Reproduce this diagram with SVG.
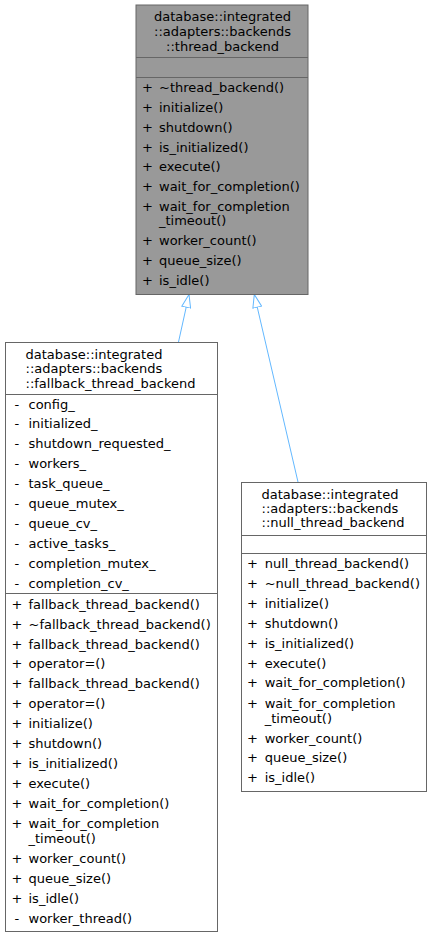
<svg xmlns="http://www.w3.org/2000/svg" width="431" height="937" viewBox="0 0 431 937">
<style>
text{font-family:"DejaVu Sans",Verdana,sans-serif;font-size:13px;fill:#000}
.box{stroke:#666666;stroke-width:1}
.sep{stroke:#666666;stroke-width:1;fill:none}
.edge{stroke:#63b8ff;stroke-width:1;fill:none}
.mid{text-anchor:middle}
</style>
<defs>
<marker id="tri" viewBox="0 0 14 10" refX="13.5" refY="5" markerWidth="14" markerHeight="10" markerUnits="userSpaceOnUse" orient="auto">
<path d="M0.5,0.5 L13.5,5 L0.5,9.5 Z" fill="#ffffff" stroke="#63b8ff" stroke-width="1"/>
</marker>
</defs>
<g id="edges">
<path class="edge" d="M178.5,342 L189,294.5" marker-end="url(#tri)"/>
<path class="edge" d="M298,482 L254.3,294.5" marker-end="url(#tri)"/>
</g>
<g id="thread_backend">
<rect class="box" x="136" y="5" width="172" height="289.5" fill="#999999"/>
<line class="sep" x1="136" y1="57.5" x2="308" y2="57.5"/>
<line class="sep" x1="136" y1="77.5" x2="308" y2="77.5"/>
<text class="mid" x="222.5" y="21.2">database::integrated</text>
<text class="mid" x="222.5" y="36.2">::adapters::backends</text>
<text class="mid" x="222.5" y="51.2">::thread_backend</text>
<text x="142" y="91.8">+</text><text x="159" y="91.8">~thread_backend()</text>
<text x="142" y="111.8">+</text><text x="159" y="111.8">initialize()</text>
<text x="142" y="131.8">+</text><text x="159" y="131.8">shutdown()</text>
<text x="142" y="151.5">+</text><text x="159" y="151.5">is_initialized()</text>
<text x="142" y="171.3">+</text><text x="159" y="171.3">execute()</text>
<text x="142" y="191.1">+</text><text x="159" y="191.1">wait_for_completion()</text>
<text x="142" y="211.2">+</text><text x="159" y="211.2">wait_for_completion</text>
<text x="159" y="225.2">_timeout()</text>
<text x="142" y="245.2">+</text><text x="159" y="245.2">worker_count()</text>
<text x="142" y="265.2">+</text><text x="159" y="265.2">queue_size()</text>
<text x="142" y="285.2">+</text><text x="159" y="285.2">is_idle()</text>
</g>
<g id="fallback_thread_backend">
<rect class="box" x="5.5" y="342.5" width="212" height="589" fill="#ffffff"/>
<line class="sep" x1="5.5" y1="394.5" x2="217.5" y2="394.5"/>
<line class="sep" x1="5.5" y1="593.5" x2="217.5" y2="593.5"/>
<text x="25.5" y="358.5">database::integrated</text>
<text x="25.5" y="373.3">::adapters::backends</text>
<text x="25.5" y="387.8">::fallback_thread_backend</text>
<text x="14.4" y="408.5">-</text><text x="28.5" y="408.5">config_</text>
<text x="14.4" y="428.4">-</text><text x="28.5" y="428.4">initialized_</text>
<text x="14.4" y="448.4">-</text><text x="28.5" y="448.4">shutdown_requested_</text>
<text x="14.4" y="468.3">-</text><text x="28.5" y="468.3">workers_</text>
<text x="14.4" y="488.2">-</text><text x="28.5" y="488.2">task_queue_</text>
<text x="14.4" y="508.1">-</text><text x="28.5" y="508.1">queue_mutex_</text>
<text x="14.4" y="528.1">-</text><text x="28.5" y="528.1">queue_cv_</text>
<text x="14.4" y="548">-</text><text x="28.5" y="548">active_tasks_</text>
<text x="14.4" y="567.9">-</text><text x="28.5" y="567.9">completion_mutex_</text>
<text x="14.4" y="587.8">-</text><text x="28.5" y="587.8">completion_cv_</text>
<text x="11.5" y="608.5">+</text><text x="28.5" y="608.5">fallback_thread_backend()</text>
<text x="11.5" y="628.5">+</text><text x="28.5" y="628.5">~fallback_thread_backend()</text>
<text x="11.5" y="648.5">+</text><text x="28.5" y="648.5">fallback_thread_backend()</text>
<text x="11.5" y="668.4">+</text><text x="28.5" y="668.4">operator=()</text>
<text x="11.5" y="688.3">+</text><text x="28.5" y="688.3">fallback_thread_backend()</text>
<text x="11.5" y="708.2">+</text><text x="28.5" y="708.2">operator=()</text>
<text x="11.5" y="728.1">+</text><text x="28.5" y="728.1">initialize()</text>
<text x="11.5" y="748.1">+</text><text x="28.5" y="748.1">shutdown()</text>
<text x="11.5" y="768">+</text><text x="28.5" y="768">is_initialized()</text>
<text x="11.5" y="787.9">+</text><text x="28.5" y="787.9">execute()</text>
<text x="11.5" y="807.8">+</text><text x="28.5" y="807.8">wait_for_completion()</text>
<text x="11.5" y="827.8">+</text><text x="28.5" y="827.8">wait_for_completion</text>
<text x="28.5" y="842.8">_timeout()</text>
<text x="11.5" y="862.8">+</text><text x="28.5" y="862.8">worker_count()</text>
<text x="11.5" y="882.8">+</text><text x="28.5" y="882.8">queue_size()</text>
<text x="11.5" y="902.8">+</text><text x="28.5" y="902.8">is_idle()</text>
<text x="14.4" y="922.8">-</text><text x="28.5" y="922.8">worker_thread()</text>
</g>
<g id="null_thread_backend">
<rect class="box" x="241.5" y="482.5" width="185" height="309" fill="#ffffff"/>
<line class="sep" x1="241.5" y1="535.5" x2="426.5" y2="535.5"/>
<line class="sep" x1="241.5" y1="553.5" x2="426.5" y2="553.5"/>
<text x="261.5" y="499">database::integrated</text>
<text x="261.5" y="513">::adapters::backends</text>
<text x="261.5" y="527.3">::null_thread_backend</text>
<text x="247" y="567.8">+</text><text x="264.7" y="567.8">null_thread_backend()</text>
<text x="247" y="587.8">+</text><text x="264.7" y="587.8">~null_thread_backend()</text>
<text x="247" y="607.7">+</text><text x="264.7" y="607.7">initialize()</text>
<text x="247" y="627.6">+</text><text x="264.7" y="627.6">shutdown()</text>
<text x="247" y="647.5">+</text><text x="264.7" y="647.5">is_initialized()</text>
<text x="247" y="667.5">+</text><text x="264.7" y="667.5">execute()</text>
<text x="247" y="687.4">+</text><text x="264.7" y="687.4">wait_for_completion()</text>
<text x="247" y="707.6">+</text><text x="264.7" y="707.6">wait_for_completion</text>
<text x="264.7" y="722.6">_timeout()</text>
<text x="247" y="742.6">+</text><text x="264.7" y="742.6">worker_count()</text>
<text x="247" y="762">+</text><text x="264.7" y="762">queue_size()</text>
<text x="247" y="781.8">+</text><text x="264.7" y="781.8">is_idle()</text>
</g>
</svg>
